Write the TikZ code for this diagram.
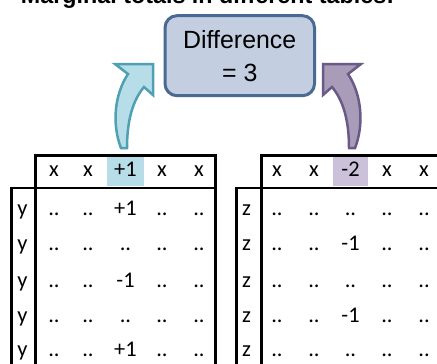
\documentclass[tikz,border=0pt]{standalone}
\usepackage{fontspec}
\setmainfont{Liberation Sans}
\newfontfamily\cellfont{Carlito}

\definecolor{boxfill}{RGB}{195,207,225}
\definecolor{boxline}{RGB}{75,106,145}
\definecolor{upfill}{RGB}{183,222,232}
\definecolor{upline}{RGB}{80,160,180}
\definecolor{downfill}{RGB}{168,156,184}
\definecolor{downline}{RGB}{106,90,136}
\definecolor{markleft}{RGB}{183,221,232}
\definecolor{markright}{RGB}{204,193,218}

\tikzset{
	diffbox/.style={draw=boxline, fill=boxfill, line width=3bp, rounded corners=12bp,
		minimum width=149.5bp, minimum height=80bp, inner sep=0pt, align=center,
		font=\fontsize{25}{33}\selectfont},
	cell/.style={anchor=base, inner sep=0pt, font=\cellfont\fontsize{22.5}{26}\selectfont},
	tbl/.style={line width=2.7bp},
	bendarrow/.style={line width=2.5bp, line join=miter}
}

\begin{document}
\begin{tikzpicture}[x=1bp, y=-1bp]
	\useasboundingbox (0,0) rectangle (437,363);
	\clip (0,0) rectangle (437,363);

	% title, only its lower edge shows
	\node[anchor=base, inner sep=0pt, font=\bfseries\fontsize{23.4}{28}\selectfont] (title) at (207.5,3) {Marginal totals in different tables:};

	\node[diffbox] (diff) at (239.75,55.7) {Difference\\= 3};

	% curved arrows up to the box
	\draw[bendarrow, draw=upline, fill=upfill] (115,64) -- (153,64) -- (153,95) -- (144,87)
		.. controls (133,100) and (127,120) .. (127,148) -- (121,148)
		.. controls (112,125) and (114,95) .. (128,74) -- cycle;
	\begin{scope}[xshift=476bp, xscale=-1]
		\draw[bendarrow, draw=downline, fill=downfill] (115,64) -- (153,64) -- (153,95) -- (144,87)
			.. controls (133,100) and (127,120) .. (127,148) -- (121,148)
			.. controls (112,125) and (114,95) .. (128,74) -- cycle;
	\end{scope}

	% marked header cells
	\fill[markleft] (107,156.7) rectangle (144,185.7);
	\fill[markright] (333,156.7) rectangle (367.7,185.7);

	% left table
	\draw[tbl] (35.3,370) -- (35.3,155.7) -- (215.3,155.7) -- (215.3,370);
	\draw[tbl] (11.3,370) -- (11.3,188) -- (215.3,188);
	\foreach \cx [count=\c] in {54,88,162,199}
		\node[cell] (lh\c) at (\cx,176.7) {x};
	\node[cell] (lhmid) at (125.5,176.7) {+1};
	\foreach \cy/\mid [count=\r] in {215/+1, 250.5/.., 287/-1, 322/.., 356/+1} {
		\node[cell] (ly\r) at (22.5,\cy) {y};
		\foreach \cx [count=\c] in {54,88,162,199}
			\node[cell] (l\r-\c) at (\cx,\cy) {..};
		\node[cell] (l\r-mid) at (125.5,\cy) {\mid};
	}

	% right table
	\draw[tbl] (261.3,370) -- (261.3,155.7) -- (440,155.7);
	\draw[tbl] (236.3,370) -- (236.3,188) -- (440,188);
	\foreach \cx [count=\c] in {277,314,387,424}
		\node[cell] (rh\c) at (\cx,176.7) {x};
	\node[cell] (rhmid) at (350.5,176.7) {-2};
	\foreach \cy/\mid [count=\r] in {215/.., 250.5/-1, 287/.., 322/-1, 356/..} {
		\node[cell] (rz\r) at (246.5,\cy) {z};
		\foreach \cx [count=\c] in {277,314,387,424}
			\node[cell] (r\r-\c) at (\cx,\cy) {..};
		\node[cell] (r\r-mid) at (350.5,\cy) {\mid};
	}
\end{tikzpicture}
\end{document}
